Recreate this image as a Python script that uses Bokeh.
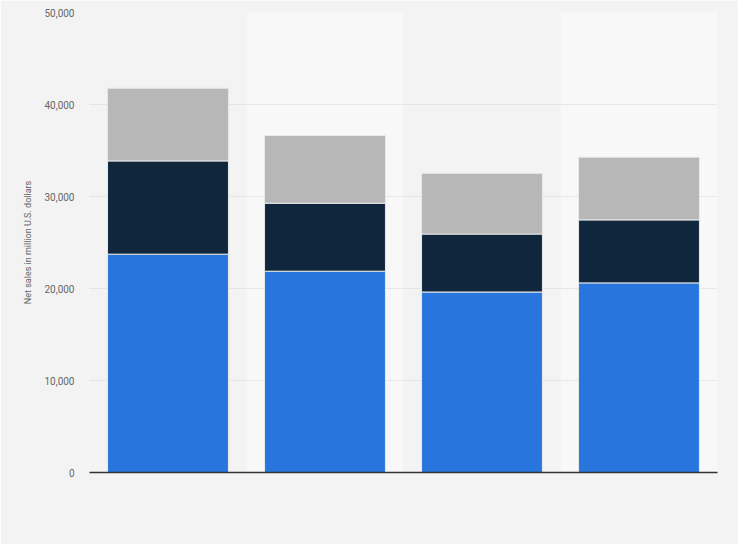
from bokeh.embed import file_html
from bokeh.resources import INLINE
from bokeh.models import ColumnDataSource, NumeralTickFormatter, FixedTicker
from bokeh.plotting import figure

# Four columns, no visible category labels in the source chart
categories = ["1", "2", "3", "4"]

# Stacked segments, net sales in million U.S. dollars
segment_a = [23730, 21880, 19620, 20610]   # blue, bottom
segment_b = [10140, 7390, 6300, 6850]      # dark navy, middle
segment_c = [7900, 7360, 6600, 6810]       # grey, top

y_ticks = [0, 10000, 20000, 30000, 40000, 50000]

source = ColumnDataSource(data=dict(cat=categories, a=segment_a, b=segment_b, c=segment_c))

p = figure(x_range=categories, y_range=(0, 50000), width=738, height=544,
           output_backend="svg", toolbar_location=None, tools="",
           background_fill_color="#f3f3f3", border_fill_color="#f3f3f3",
           min_border_left=89, min_border_right=21, min_border_top=12, min_border_bottom=72)
p.outline_line_color = None

# lighter bands behind every second column
band_cats = categories[1::2]
band = p.vbar(x=band_cats, top=[y_ticks[-1]] * len(band_cats), width=1.0,
              fill_color="#f8f8f8", line_color=None)
band.level = "image"

p.vbar_stack(["a", "b", "c"], x="cat", width=0.77, source=source,
             color=["#2876dd", "#0f263d", "#b7b7b7"],
             line_color="#e8e8e8", line_width=1)

# grid
p.xgrid.grid_line_color = None
p.ygrid.grid_line_color = "#d6d6d6"
p.ygrid.grid_line_dash = "1 1"
p.ygrid.grid_line_width = 1

# y axis
p.yaxis.ticker = FixedTicker(ticks=y_ticks)
p.yaxis.formatter = NumeralTickFormatter(format="0,0")
p.yaxis.axis_line_color = None
p.yaxis.major_tick_line_color = None
p.yaxis.minor_tick_line_color = None
p.yaxis.major_tick_out = 0
p.yaxis.major_label_standoff = 15
p.yaxis.major_label_text_font = "Roboto"
p.yaxis.major_label_text_font_size = "10px"
p.yaxis.major_label_text_color = "#666666"
p.yaxis.axis_label = "Net sales in million U.S. dollars"
p.yaxis.axis_label_text_font = "Roboto"
p.yaxis.axis_label_text_font_size = "9px"
p.yaxis.axis_label_text_font_style = "normal"
p.yaxis.axis_label_text_color = "#666666"
p.yaxis.axis_label_standoff = 8

# x axis: just the baseline
p.xaxis.axis_line_color = "#333333"
p.xaxis.axis_line_width = 1.5
p.xaxis.major_tick_line_color = None
p.xaxis.minor_tick_line_color = None
p.xaxis.major_label_text_color = None
p.xaxis.major_label_text_font_size = "1px"

open("out.html", "w").write(file_html(p, INLINE))
